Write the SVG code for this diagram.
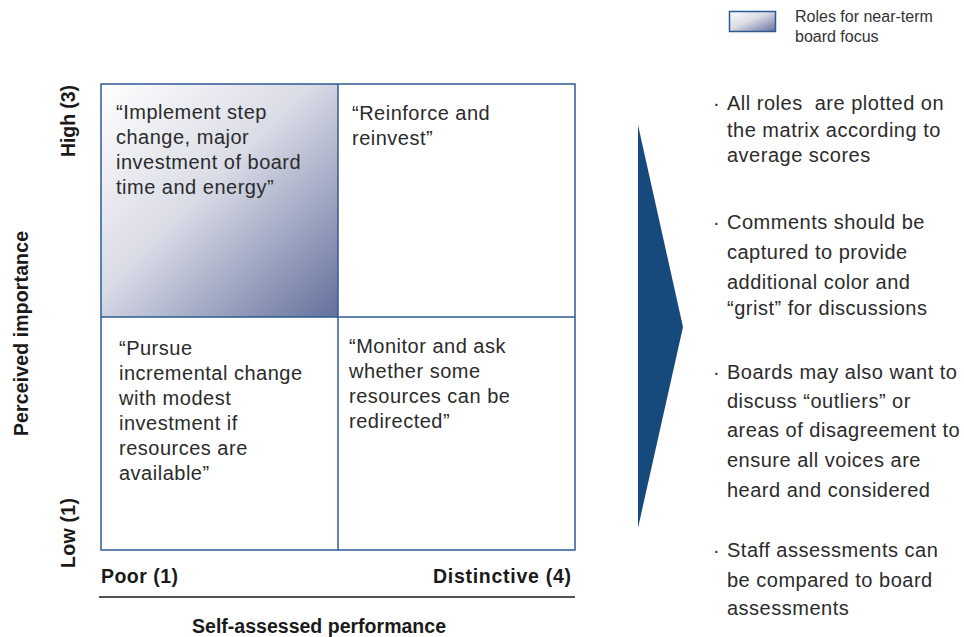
<svg xmlns="http://www.w3.org/2000/svg" width="964" height="637" viewBox="0 0 964 637">
<defs>
<linearGradient id="g" x1="0" y1="0" x2="1" y2="1">
<stop offset="0" stop-color="#ffffff"/>
<stop offset="0.45" stop-color="#d9dbe6"/>
<stop offset="1" stop-color="#63709c"/>
</linearGradient>
<style>
text{font-family:"Liberation Sans",Arial,sans-serif;fill:#2b2b2b}
.q{font-size:20px;letter-spacing:0.5px}
.b{font-size:20px;letter-spacing:0.5px}
.lg{font-size:16px;fill:#333}
.ax{font-size:19.5px;font-weight:bold;fill:#1a1a1a}
.cell{stroke:#2e5a93;stroke-width:1.5;fill:none}
</style>
</defs>
<rect width="964" height="637" fill="#fff"/>
<g id="legend">
<rect x="729.5" y="11.5" width="46" height="20" fill="url(#g)" stroke="#2e5a93" stroke-width="1.5"/>
<text class="lg" x="795" y="22">Roles for near-term</text>
<text class="lg" x="795" y="42">board focus</text>
</g>
<g id="matrix">
<rect x="101" y="84" width="237" height="233" fill="url(#g)"/>
<rect class="cell" x="101" y="84" width="474" height="466"/>
<line class="cell" x1="338" y1="84" x2="338" y2="550"/>
<line class="cell" x1="101" y1="317" x2="575" y2="317"/>
</g>
<g id="q-tl">
<text class="q" x="116" y="119">“Implement step</text>
<text class="q" x="116" y="144">change, major</text>
<text class="q" x="116" y="169">investment of board</text>
<text class="q" x="116" y="194">time and energy”</text>
</g>
<g id="q-tr">
<text class="q" x="352" y="120">“Reinforce and</text>
<text class="q" x="352" y="145">reinvest”</text>
</g>
<g id="q-bl">
<text class="q" x="119" y="355">“Pursue</text>
<text class="q" x="119" y="380">incremental change</text>
<text class="q" x="119" y="405">with modest</text>
<text class="q" x="119" y="430">investment if</text>
<text class="q" x="119" y="455">resources are</text>
<text class="q" x="119" y="480">available”</text>
</g>
<g id="q-br">
<text class="q" x="349" y="353">“Monitor and ask</text>
<text class="q" x="349" y="378">whether some</text>
<text class="q" x="349" y="403">resources can be</text>
<text class="q" x="349" y="428">redirected”</text>
</g>
<g id="axes">
<text class="ax" x="101" y="583" textLength="77" lengthAdjust="spacing">Poor (1)</text>
<text class="ax" x="433" y="583" textLength="138" lengthAdjust="spacing">Distinctive (4)</text>
<line x1="99" y1="597" x2="575" y2="597" stroke="#1a1a1a" stroke-width="1.5"/>
<text class="ax" x="192" y="633" textLength="254" lengthAdjust="spacing">Self-assessed performance</text>
<text class="ax" transform="translate(75,157) rotate(-90)" textLength="72" lengthAdjust="spacing">High (3)</text>
<text class="ax" transform="translate(75,568) rotate(-90)" textLength="70" lengthAdjust="spacing">Low (1)</text>
<text class="ax" transform="translate(28,436) rotate(-90)" textLength="205" lengthAdjust="spacing">Perceived importance</text>
</g>
<g id="arrow">
<polygon points="638,125 683,327 638,528" fill="#164a7c"/>
</g>
<g id="bullets">
<text class="b" x="713" y="110">·</text>
<text class="b" x="727" y="110" xml:space="preserve">All roles  are plotted on</text>
<text class="b" x="727" y="137">the matrix according to</text>
<text class="b" x="727" y="162">average scores</text>
<text class="b" x="713" y="229">·</text>
<text class="b" x="727" y="229">Comments should be</text>
<text class="b" x="727" y="259">captured to provide</text>
<text class="b" x="727" y="289">additional color and</text>
<text class="b" x="727" y="315">“grist” for discussions</text>
<text class="b" x="713" y="379">·</text>
<text class="b" x="727" y="379">Boards may also want to</text>
<text class="b" x="727" y="408">discuss “outliers” or</text>
<text class="b" x="727" y="437">areas of disagreement to</text>
<text class="b" x="727" y="467">ensure all voices are</text>
<text class="b" x="727" y="497">heard and considered</text>
<text class="b" x="713" y="557">·</text>
<text class="b" x="727" y="557">Staff assessments can</text>
<text class="b" x="727" y="587">be compared to board</text>
<text class="b" x="727" y="615">assessments</text>
</g>
</svg>
